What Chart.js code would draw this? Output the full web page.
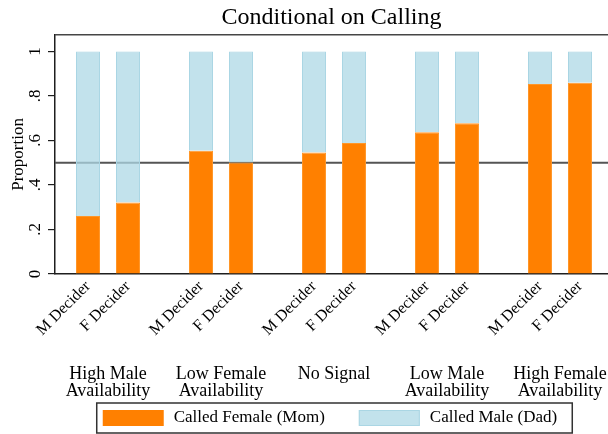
<!DOCTYPE html>
<html>
<head>
<meta charset="utf-8">
<script src="https://cdn.jsdelivr.net/npm/chart.js@4"></script>
<style>
  body { margin: 0; background: #fff; }
  #myChart { display: block; }
</style>
</head>
<body>
<canvas id="myChart" width="608" height="434"></canvas>
<script>
// groups along x, two bars (M / F decider) in each group
const groups   = [['High Male', 'Availability'], ['Low Female', 'Availability'], ['No Signal'], ['Low Male', 'Availability'], ['High Female', 'Availability']];
const deciders = ['M Decider', 'F Decider'];

// share calling the mom / the dad
const momM = [0.261, 0.554, 0.546, 0.637, 0.854];
const dadM = [0.739, 0.446, 0.454, 0.363, 0.146];
const momF = [0.321, 0.501, 0.589, 0.677, 0.859];
const dadF = [0.679, 0.499, 0.411, 0.323, 0.141];

const yTicks      = [0, 0.2, 0.4, 0.6, 0.8, 1];
const yTickLabels = ['0', '.2', '.4', '.6', '.8', '1'];
const refLine     = 0.5;

const seriesNames = ['Called Female (Mom)', 'Called Male (Dad)'];

const FONT   = "'Liberation Serif', 'Times New Roman', serif";
const ORANGE = 'rgb(255,128,0)';
const BLUE   = 'rgba(173,216,230,0.75)';

Chart.defaults.font.family = FONT;
Chart.defaults.color = '#000';

const pts = arr => arr.map((v, i) => ({ x: i, y: v }));

/* line at .5 goes behind the bars */
const refLinePlugin = {
    id: 'refLine',
    beforeDatasetsDraw(chart) {
        const { ctx, chartArea, scales } = chart;
        const y = scales.y.getPixelForValue(refLine);
        ctx.save();
        ctx.strokeStyle = 'rgb(85,85,85)';
        ctx.lineWidth = 2;
        ctx.beginPath();
        ctx.moveTo(chartArea.left, y);
        ctx.lineTo(chartArea.right, y);
        ctx.stroke();
        ctx.restore();
    }
};

/* top frame line, rotated y labels, rotated bar labels, boxed legend */
const extrasPlugin = {
    id: 'extras',
    afterDraw(chart) {
        const { ctx, chartArea, scales } = chart;
        ctx.save();

        // top line of the plot box
        ctx.strokeStyle = 'rgb(70,70,70)';
        ctx.lineWidth = 1.5;
        ctx.beginPath();
        ctx.moveTo(chartArea.left, chartArea.top);
        ctx.lineTo(chartArea.right, chartArea.top);
        ctx.stroke();

        // y tick labels, turned 90 deg
        ctx.fillStyle = '#000';
        ctx.font = '17px ' + FONT;
        ctx.textAlign = 'center';
        ctx.textBaseline = 'middle';
        yTicks.forEach((v, i) => {
            const y = scales.y.getPixelForValue(v);
            ctx.save();
            ctx.translate(36, y);
            ctx.rotate(-Math.PI / 2);
            ctx.fillText(yTickLabels[i], 0, 0);
            ctx.restore();
        });

        // "M Decider" / "F Decider" under each bar, at 45 deg
        ctx.font = '16px ' + FONT;
        ctx.textAlign = 'right';
        [0, 2].forEach((di, k) => {
            chart.getDatasetMeta(di).data.forEach(bar => {
                ctx.save();
                ctx.translate(bar.x, chartArea.bottom + 10);
                ctx.rotate(-Math.PI / 4);
                ctx.fillText(deciders[k], 0, 0);
                ctx.restore();
            });
        });

        // legend in a box
        ctx.font = '17px ' + FONT;
        const sw = 61, sh = 16, gap = 10, itemGap = 34, padL = 6, padR = 15;
        const w1 = ctx.measureText(seriesNames[0]).width;
        const w2 = ctx.measureText(seriesNames[1]).width;
        const total = padL + sw + gap + w1 + itemGap + sw + gap + w2 + padR;
        const cx = (chartArea.left + chartArea.right) / 2 + 3;
        const bx = cx - total / 2;
        const by = 403, bh = 30;
        ctx.strokeStyle = 'rgb(50,50,50)';
        ctx.lineWidth = 1.5;
        ctx.strokeRect(bx, by, total, bh);

        let x = bx + padL;
        const sy = by + 7;
        ctx.fillStyle = ORANGE;
        ctx.fillRect(x, sy, sw, sh);
        x += sw + gap;
        ctx.fillStyle = '#000';
        ctx.textAlign = 'left';
        ctx.fillText(seriesNames[0], x, sy + sh / 2);
        x += w1 + itemGap;
        ctx.fillStyle = BLUE;
        ctx.fillRect(x, sy, sw, sh);
        ctx.strokeStyle = 'rgb(170,214,228)';
        ctx.lineWidth = 1;
        ctx.strokeRect(x + 0.5, sy + 0.5, sw - 1, sh - 1);
        x += sw + gap;
        ctx.fillStyle = '#000';
        ctx.fillText(seriesNames[1], x, sy + sh / 2);

        ctx.restore();
    }
};

const barStyle = {
    categoryPercentage: 0.708,
    barPercentage: 0.6,
    borderWidth: 1
};

let ctx = document.getElementById('myChart').getContext('2d');
let myChart = new Chart(ctx, {
    type: 'bar',
    data: {
        datasets: [
            { label: seriesNames[0], data: pts(momM), stack: 'M', backgroundColor: ORANGE, borderColor: 'rgb(255,150,40)', ...barStyle },
            { label: seriesNames[1], data: pts(dadM), stack: 'M', backgroundColor: BLUE, borderColor: 'rgb(170,214,228)', ...barStyle },
            { label: seriesNames[0], data: pts(momF), stack: 'F', backgroundColor: ORANGE, borderColor: 'rgb(255,150,40)', ...barStyle },
            { label: seriesNames[1], data: pts(dadF), stack: 'F', backgroundColor: BLUE, borderColor: 'rgb(170,214,228)', ...barStyle }
        ]
    },
    options: {
        responsive: false,
        animation: false,
        layout: { padding: { top: 0, right: 0, bottom: 34, left: 0 } },
        plugins: {
            legend: { display: false },
            tooltip: { enabled: false },
            title: {
                display: true,
                text: 'Conditional on Calling',
                fullSize: false,
                font: { size: 24, weight: 'normal', family: FONT },
                color: '#000',
                padding: { top: 3, bottom: 3 }
            }
        },
        scales: {
            x: {
                type: 'linear',
                offset: false,
                min: -0.469,
                max: 4.425,
                grid: { display: false },
                border: { display: true, color: 'rgb(30,30,30)', width: 1.5 },
                afterBuildTicks: s => { s.ticks = groups.map((g, i) => ({ value: i })); },
                afterFit: s => { s.height = 126; s.paddingLeft = 0; s.paddingRight = 0; },
                ticks: {
                    autoSkip: false,
                    maxRotation: 0,
                    padding: 84,
                    font: { size: 18, lineHeight: 0.95 },
                    callback: v => groups[v]
                }
            },
            y: {
                stacked: true,
                min: 0,
                max: 1.075,
                afterBuildTicks: s => { s.ticks = yTicks.map(v => ({ value: v })); },
                afterFit: s => { s.width = 55; },
                grid: { drawOnChartArea: false, drawTicks: true, tickLength: 7, color: 'rgb(30,30,30)', lineWidth: 1.2 },
                border: { display: true, color: 'rgb(30,30,30)', width: 1.5 },
                ticks: { display: false },
                title: {
                    display: true,
                    text: 'Proportion',
                    font: { size: 17, family: FONT },
                    padding: { top: 8, bottom: 0 }
                }
            }
        }
    },
    plugins: [refLinePlugin, extrasPlugin]
});
</script>
</body>
</html>
